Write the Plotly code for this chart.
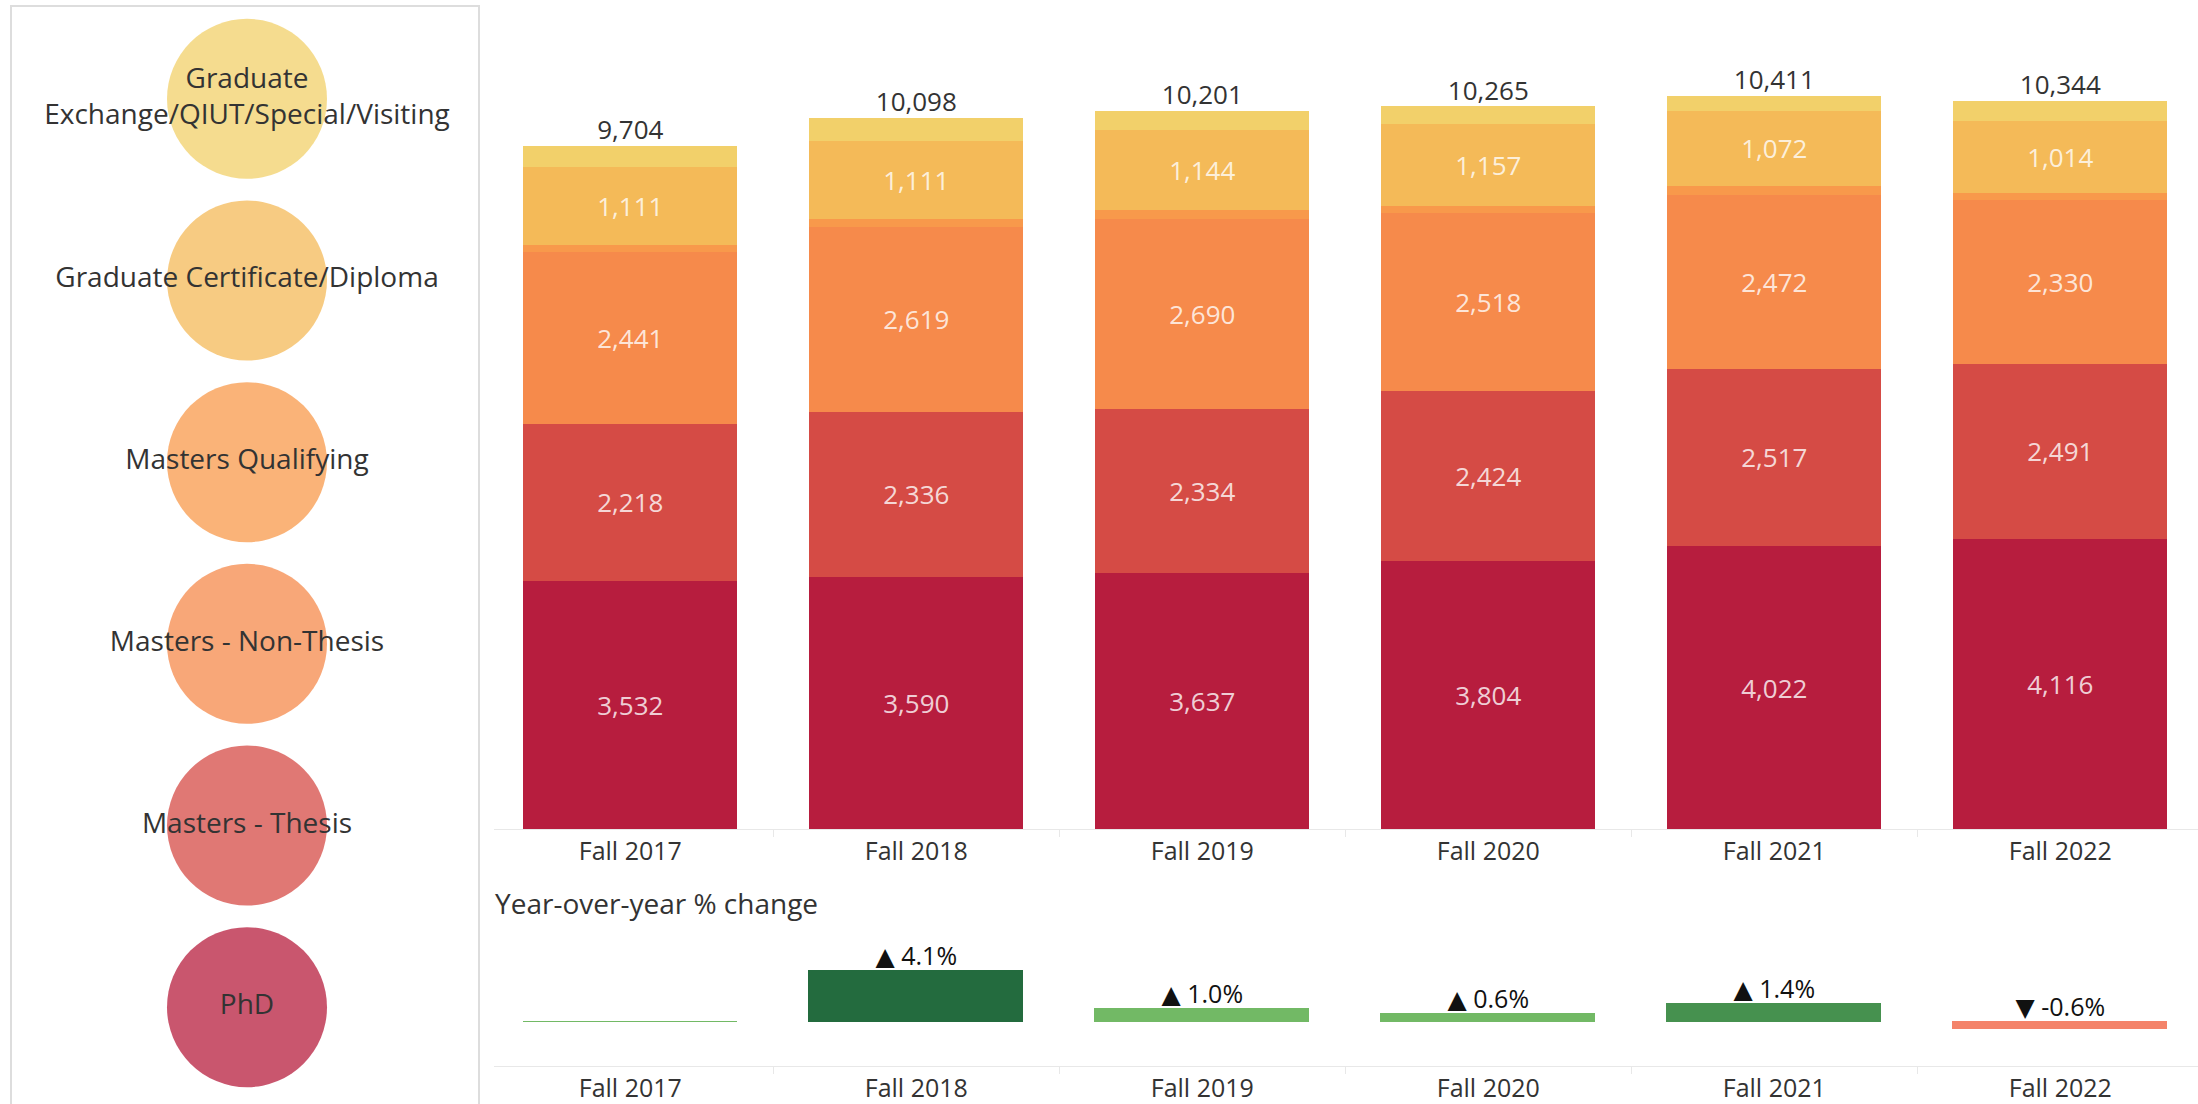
import plotly.graph_objects as go

# ---------------- data ----------------
terms = ["Fall 2017", "Fall 2018", "Fall 2019", "Fall 2020", "Fall 2021", "Fall 2022"]

programs = [
    "Graduate Exchange/QIUT/Special/Visiting",
    "Graduate Certificate/Diploma",
    "Masters Qualifying",
    "Masters - Non-Thesis",
    "Masters - Thesis",
    "PhD",
]
program_labels = [
    "Graduate<br>Exchange/QIUT/Special/Visiting",
    "Graduate Certificate/Diploma",
    "Masters Qualifying",
    "Masters - Non-Thesis",
    "Masters - Thesis",
    "PhD",
]

phd = [3532, 3590, 3637, 3804, 4022, 4116]
masters_thesis = [2218, 2336, 2334, 2424, 2517, 2491]
masters_non_thesis = [2441, 2619, 2690, 2518, 2472, 2330]
masters_qualifying = [100, 118, 128, 103, 114, 98]
grad_certificate = [1111, 1111, 1144, 1157, 1072, 1014]
grad_exchange = [302, 324, 268, 259, 214, 295]
totals = [9704, 10098, 10201, 10265, 10411, 10344]

yoy_pct = [0.0, 4.1, 1.0, 0.6, 1.4, -0.6]

# ---------------- styles ----------------
FONT = "Open Sans, DejaVu Sans"
TXT = "#333333"
program_colors = {
    "PhD": "#B71D3E",
    "Masters - Thesis": "#D54B45",
    "Masters - Non-Thesis": "#F68A4B",
    "Masters Qualifying": "#F8994B",
    "Graduate Certificate/Diploma": "#F4BA58",
    "Graduate Exchange/QIUT/Special/Visiting": "#F2D06A",
}
show_inside_label = {
    "PhD": True,
    "Masters - Thesis": True,
    "Masters - Non-Thesis": True,
    "Masters Qualifying": False,
    "Graduate Certificate/Diploma": True,
    "Graduate Exchange/QIUT/Special/Visiting": False,
}
yoy_colors = ["#72B965", "#236B3E", "#72B965", "#72B965", "#46914F", "#F4836A"]
FAINT = "#E8E8E8"

W, H = 2198, 1104

fig = go.Figure()

# ---------------- stacked bars ----------------
stack = [
    ("PhD", phd),
    ("Masters - Thesis", masters_thesis),
    ("Masters - Non-Thesis", masters_non_thesis),
    ("Masters Qualifying", masters_qualifying),
    ("Graduate Certificate/Diploma", grad_certificate),
    ("Graduate Exchange/QIUT/Special/Visiting", grad_exchange),
]
for name, vals in stack:
    fig.add_trace(go.Bar(
        x=terms, y=vals, name=name,
        marker=dict(color=program_colors[name], line=dict(width=0)),
        width=0.75,
        texttemplate="%{y:,}" if show_inside_label[name] else None,
        textposition="inside" if show_inside_label[name] else "none",
        insidetextanchor="middle",
        textangle=0,
        textfont=dict(family=FONT, size=26, color="rgba(255,255,255,0.8)"),
        showlegend=False,
        xaxis="x", yaxis="y",
    ))

# totals above bars
fig.add_trace(go.Scatter(
    x=terms, y=totals, mode="text",
    text=[f"{t:,}" for t in totals],
    textposition="top center",
    textfont=dict(family=FONT, size=26, color=TXT),
    showlegend=False, hoverinfo="skip",
    xaxis="x", yaxis="y",
))

# ---------------- YoY bars ----------------
fig.add_trace(go.Bar(
    x=terms, y=yoy_pct, width=0.75,
    marker=dict(color=yoy_colors, line=dict(color=yoy_colors, width=1)),
    showlegend=False,
    xaxis="x2", yaxis="y2",
))
yoy_text = []
for i, v in enumerate(yoy_pct):
    if i == 0:
        yoy_text.append("")
    elif v >= 0:
        yoy_text.append(f"▲ {v:.1f}%")
    else:
        yoy_text.append(f"▼ {v:.1f}%")
fig.add_trace(go.Scatter(
    x=terms, y=[max(v, 0) for v in yoy_pct], mode="text",
    text=yoy_text, textposition="top center",
    textfont=dict(family=FONT, size=25, color="#111111"),
    showlegend=False, hoverinfo="skip",
    xaxis="x2", yaxis="y2",
))

# ---------------- circle legend ----------------
fig.add_trace(go.Scatter(
    x=[0] * len(programs), y=programs,
    mode="markers+text",
    marker=dict(size=160, color=[program_colors[p] for p in programs], opacity=0.75,
                line=dict(width=0)),
    text=program_labels, textposition="middle center",
    textfont=dict(family=FONT, size=28, color=TXT),
    showlegend=False, hoverinfo="skip",
    xaxis="x3", yaxis="y3",
))

# ---------------- layout ----------------
left_px = 487.3
step_px = 286.0
xr_max = -0.5 + (W - left_px) / step_px

main_bottom = 831.0
px_per_unit = 0.0706
main_top = 22.0
y_max = (main_bottom - main_top) / px_per_unit

yoy_zero = 1024.0
yoy_top, yoy_bottom = 937.0, 1068.0
px_per_pct = 12.5

def py(pix):
    return (H - pix) / H

fig.update_layout(
    width=W, height=H,
    margin=dict(l=0, r=0, t=0, b=0),
    paper_bgcolor="white", plot_bgcolor="white",
    barmode="stack",
    bargap=0,
    font=dict(family=FONT, color=TXT),
    xaxis=dict(domain=[left_px / W, 1], range=[-0.5, xr_max], type="category",
               showline=True, linecolor=FAINT, linewidth=1,
               ticks="outside", tickson="boundaries", ticklen=7, tickcolor=FAINT,
               tickfont=dict(family=FONT, size=25, color=TXT),
               showgrid=False, zeroline=False, anchor="y"),
    yaxis=dict(domain=[py(main_bottom), py(main_top)], range=[0, y_max],
               showline=True, linecolor=FAINT, linewidth=1,
               showticklabels=False, ticks="", showgrid=False, zeroline=False,
               anchor="x"),
    xaxis2=dict(domain=[left_px / W, 1], range=[-0.5, xr_max], type="category",
                showline=True, linecolor=FAINT, linewidth=1,
                ticks="outside", tickson="boundaries", ticklen=7, tickcolor=FAINT,
                tickfont=dict(family=FONT, size=25, color=TXT),
                showgrid=False, zeroline=False, anchor="y2"),
    yaxis2=dict(domain=[py(yoy_bottom), py(yoy_top)],
                range=[-(yoy_bottom - yoy_zero) / px_per_pct, (yoy_zero - yoy_top) / px_per_pct],
                showline=True, linecolor=FAINT, linewidth=1,
                showticklabels=False, ticks="", showgrid=False, zeroline=False,
                anchor="x2"),
    xaxis3=dict(domain=[0, 494 / W], range=[-1, 1], visible=False, anchor="y3"),
    yaxis3=dict(domain=[py(1100), py(8)], type="category", categoryorder="array",
                categoryarray=programs, range=[5.5, -0.5], visible=False, anchor="x3"),
    shapes=[
        dict(type="rect", xref="paper", yref="paper",
             x0=11 / W, x1=479 / W, y0=-0.02, y1=py(6),
             line=dict(color="#DDDDDD", width=2), fillcolor="rgba(0,0,0,0)", layer="above"),
    ],
    annotations=[
        dict(text="Year-over-year % change", xref="paper", yref="paper",
             x=493 / W, y=py(905), xanchor="left", yanchor="middle",
             showarrow=False, font=dict(family=FONT, size=28, color=TXT)),
    ],
)

fig.write_html("out.html",
               config={"displayModeBar": False},
               post_script="document.body.style.margin='0';document.body.style.overflow='hidden';")
